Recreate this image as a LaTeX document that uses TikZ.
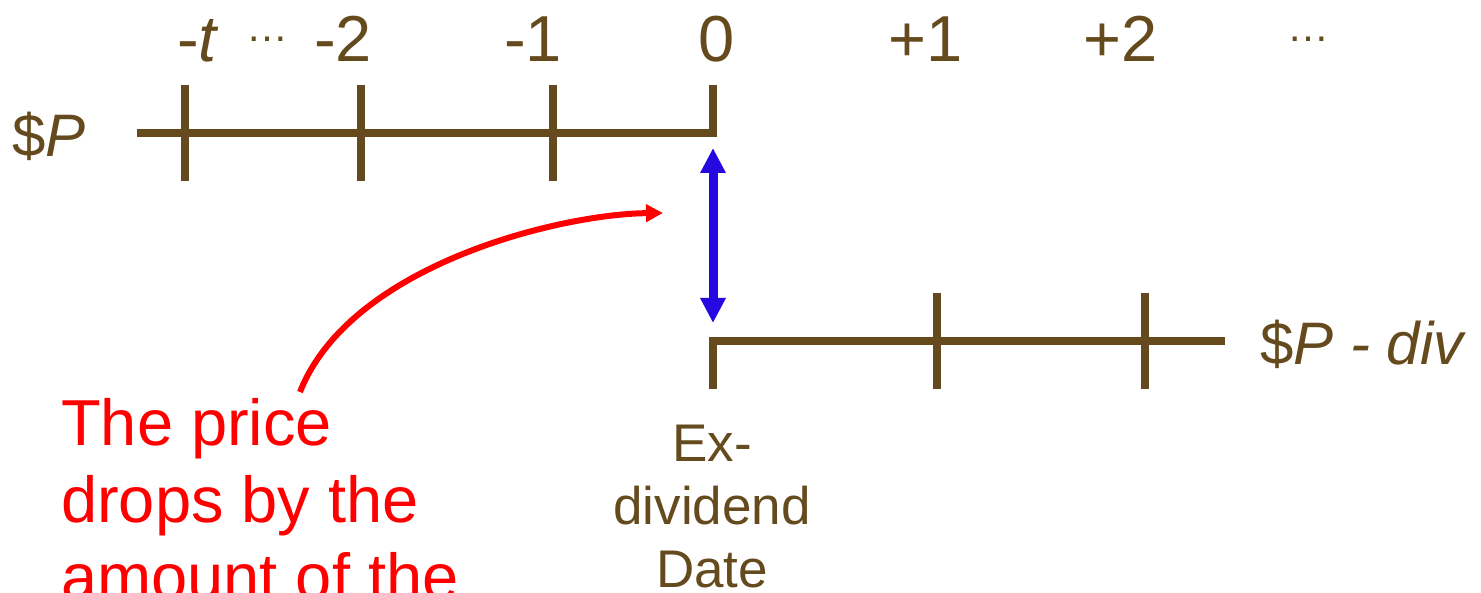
\documentclass[tikz,border=0pt]{standalone}
\usepackage{fontspec}
\setmainfont{Liberation Sans}
\usepackage{tikz}
\usetikzlibrary{positioning,arrows.meta}
\definecolor{tlbrown}{RGB}{101,74,30}
\definecolor{dropblue}{RGB}{38,8,224}

\begin{document}
\begin{tikzpicture}[x=1pt,y=-1pt,
  tl/.style={draw=tlbrown,line width=8pt},
  lbl/.style={text=tlbrown,inner sep=0pt,anchor=base,font=\fontsize{65}{78}\selectfont},
  dots/.style={text=tlbrown,inner sep=0pt,anchor=base,font=\fontsize{42}{50}\selectfont},
  price/.style={text=tlbrown,inner sep=0pt,anchor=base west,font=\fontsize{60}{72}\selectfont},
  note/.style={text=red,inner sep=0pt,anchor=north west,align=left,font=\fontsize{65}{77}\selectfont},
  exd/.style={text=tlbrown,inner sep=0pt,anchor=north,align=center,font=\fontsize{53}{63}\selectfont},
  drop/.style={draw=dropblue,line width=9pt,{Triangle[length=25pt,width=24pt]}-{Triangle[length=25pt,width=24pt]}},
  pointer/.style={draw=red,line width=6pt,-{Triangle[length=17pt,width=17pt]}}]
  \useasboundingbox (0,0) rectangle (1481,593);
  % time points
  \coordinate (start) at (137,133);
  \coordinate (t0) at (713,133);
  \coordinate (t0up) at (713,85);
  \coordinate (t0low) at (713,389);
  \coordinate (exstart) at (713,341);
  \coordinate (exend) at (1225,341);
  % before the ex-dividend date
  \draw[tl] (start) -- (t0) -- (t0up);
  \foreach \x in {185,361,553}
    \draw[tl] (\x,85) -- (\x,181);
  % after the ex-dividend date
  \draw[tl] (t0low) -- (exstart) -- (exend);
  \foreach \x in {937,1145}
    \draw[tl] (\x,293) -- (\x,389);
  % labels
  \node (lblT) [lbl] at (198,62) {-\textit{t}};
  \node (dotsL) [dots] at (267,42) {…};
  \node (lblM2) [lbl] at (343,62) {-2};
  \node (lblM1) [lbl] at (533,62) {-1};
  \node (lbl0) [lbl] at (717,62) {0};
  \node (lblP1) [lbl] at (926,62) {+1};
  \node (lblP2) [lbl] at (1121,62) {+2};
  \node (dotsR) [dots] at (1308,42) {…};
  \node (priceP) [price] at (12,157) {\$\textit{P}};
  \node (priceDiv) [price] at (1260,365) {\$\textit{P - div}};
  \node (exdate) [exd] at (712,425) {Ex-\\dividend\\Date};
  % price drop
  \coordinate (dropTop) at (713,148);
  \coordinate (dropBot) at (713,323);
  \draw[drop] (dropTop) -- (dropBot);
  \node (note) [note] at (61,398) {The price\\drops by the\\amount of the};
  \coordinate (noteTail) at (300,392);
  \coordinate (noteHead) at (663,213);
  \draw[pointer] (noteTail) .. controls (350,265) and (560,214) .. (noteHead);
\end{tikzpicture}
\end{document}
